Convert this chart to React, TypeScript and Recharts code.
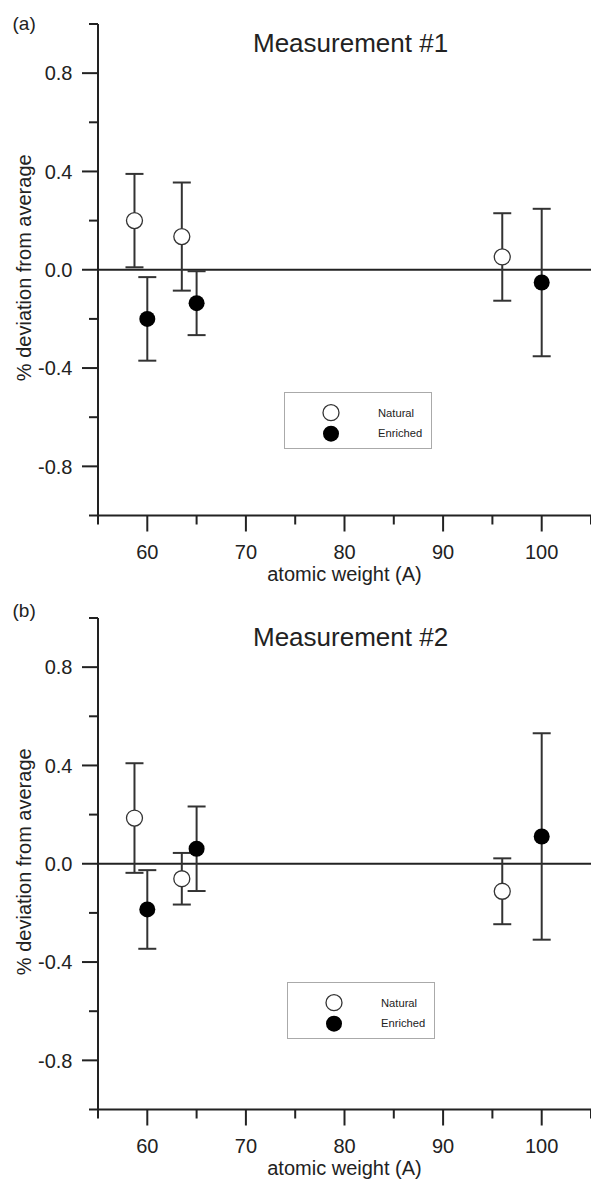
import { ScatterChart, Scatter, XAxis, YAxis, ErrorBar, ReferenceLine, Legend } from 'recharts'

// atomic weights of the isotopes (x)
const naturalA = [58.7, 63.5, 96]
const enrichedA = [60, 65, 100]

// measurement #1
const natural1 = [0.2, 0.135, 0.052]
const natural1Err = [0.19, 0.22, 0.178]
const enriched1 = [-0.2, -0.136, -0.052]
const enriched1Err = [0.17, 0.13, 0.3]

// measurement #2
const natural2 = [0.186, -0.061, -0.112]
const natural2Err = [0.223, 0.105, 0.134]
const enriched2 = [-0.186, 0.061, 0.111]
const enriched2Err = [0.16, 0.172, 0.42]

const xTicks = [55, 60, 65, 70, 75, 80, 85, 90, 95, 100, 105]
const xMajor = [60, 70, 80, 90, 100]
const yTicks = [-1, -0.8, -0.6, -0.4, -0.2, 0, 0.2, 0.4, 0.6, 0.8, 1]
const yMajor = [-0.8, -0.4, 0, 0.4, 0.8]

const seriesNames = ['Natural', 'Enriched']

const INK = '#222'
const FONT = '"Liberation Sans", Arial, sans-serif'

const toPoints = (xs: number[], ys: number[], errs: number[]) =>
  xs.map((x, i) => ({ x, y: ys[i], err: errs[i] }))

function XTick({ x, y, payload }: any) {
  const v = payload.value
  const major = xMajor.includes(v)
  return (
    <g>
      <line x1={x} x2={x} y1={y} y2={y + (major ? 16 : 9)} stroke={INK} strokeWidth={2} />
      {major && (
        <text x={x} y={y + 43} textAnchor="middle" fontSize={20} fill={INK} fontFamily={FONT}>
          {v}
        </text>
      )}
    </g>
  )
}

function YTick({ x, y, payload }: any) {
  const v = payload.value
  const major = yMajor.includes(v)
  return (
    <g>
      <line x1={x} x2={x - (major ? 16 : 9)} y1={y} y2={y} stroke={INK} strokeWidth={2} />
      {major && (
        <text x={x - 25.5} y={y + 7.2} textAnchor="end" fontSize={20} fill={INK} fontFamily={FONT}>
          {v.toFixed(1)}
        </text>
      )}
    </g>
  )
}

function XLabel({ viewBox }: any) {
  return (
    <text
      x={viewBox.x + viewBox.width / 2}
      y={viewBox.y + 65}
      textAnchor="middle"
      fontSize={20}
      fill={INK}
      fontFamily={FONT}
    >
      atomic weight (A)
    </text>
  )
}

function YLabel({ viewBox }: any) {
  const cy = viewBox.y + viewBox.height / 2 - 2
  return (
    <text
      x={31}
      y={cy}
      transform={`rotate(-90 31 ${cy})`}
      textAnchor="middle"
      fontSize={20}
      fill={INK}
      fontFamily={FONT}
    >
      % deviation from average
    </text>
  )
}

const openDot = (p: any) => <circle cx={p.cx} cy={p.cy} r={8} fill="#fff" stroke="#333" strokeWidth={1.3} />
const fullDot = (p: any) => <circle cx={p.cx} cy={p.cy} r={8} fill="#000" />

function LegendBox() {
  return (
    <div
      style={{
        width: 148,
        height: 57,
        border: '1px solid #aaa',
        boxSizing: 'border-box',
        background: '#fff',
      }}
    >
      <svg width={146} height={55} style={{ display: 'block' }}>
        <circle cx={46} cy={19.7} r={8} fill="#fff" stroke="#333" strokeWidth={1.3} />
        <circle cx={46} cy={40.7} r={8} fill="#000" />
        <text x={93} y={23.7} fontSize={11.2} fill={INK} fontFamily={FONT}>
          {seriesNames[0]}
        </text>
        <text x={93} y={44.3} fontSize={11.2} fill={INK} fontFamily={FONT}>
          {seriesNames[1]}
        </text>
      </svg>
    </div>
  )
}

interface PanelProps {
  top: number
  height: number
  bottom: number
  tag: string
  tagTop: number
  title: string
  natural: { x: number; y: number; err: number }[]
  enriched: { x: number; y: number; err: number }[]
  legendLeft: number
  legendTop: number
}

function Panel(p: PanelProps) {
  return (
    <div style={{ position: 'absolute', left: 0, top: p.top, width: 591, height: p.height }}>
      <ScatterChart
        width={591}
        height={p.height}
        margin={{ top: 24, right: 0, left: 0, bottom: p.bottom }}
        style={{ fontFamily: FONT }}
      >
        <XAxis
          type="number"
          dataKey="x"
          domain={[55, 105]}
          ticks={xTicks}
          interval={0}
          height={60}
          tickSize={0}
          tickMargin={0}
          tickLine={false}
          tick={<XTick />}
          axisLine={{ stroke: INK, strokeWidth: 2 }}
          label={<XLabel />}
        />
        <YAxis
          type="number"
          dataKey="y"
          domain={[-1, 1]}
          ticks={yTicks}
          interval={0}
          width={98}
          tickSize={0}
          tickMargin={0}
          tickLine={false}
          tick={<YTick />}
          axisLine={{ stroke: INK, strokeWidth: 2 }}
          label={<YLabel />}
        />
        <ReferenceLine y={0} stroke={INK} strokeWidth={2} />
        <Legend
          layout="horizontal"
          verticalAlign="middle"
          align="center"
          wrapperStyle={{ left: p.legendLeft, top: p.legendTop, width: 148, height: 57 }}
          content={() => <LegendBox />}
        />
        <Scatter name={seriesNames[0]} data={p.natural} shape={openDot} isAnimationActive={false}>
          <ErrorBar dataKey="err" direction="y" width={9} stroke="#333" strokeWidth={2} isAnimationActive={false} />
        </Scatter>
        <Scatter name={seriesNames[1]} data={p.enriched} shape={fullDot} isAnimationActive={false}>
          <ErrorBar dataKey="err" direction="y" width={9} stroke="#333" strokeWidth={2} isAnimationActive={false} />
        </Scatter>
      </ScatterChart>
      <div
        style={{
          position: 'absolute',
          left: 12.5,
          top: p.tagTop,
          fontSize: 19,
          lineHeight: '19px',
          fontFamily: FONT,
          color: INK,
        }}
      >
        {p.tag}
      </div>
      <div
        style={{
          position: 'absolute',
          left: 253,
          top: 30,
          fontSize: 26,
          lineHeight: '26px',
          fontFamily: FONT,
          color: INK,
          whiteSpace: 'nowrap',
        }}
      >
        {p.title}
      </div>
    </div>
  )
}

export default function App() {
  return (
    <div
      style={{
        position: 'absolute',
        left: 0,
        top: 0,
        width: 591,
        height: 1180,
        overflow: 'hidden',
        background: '#fff',
      }}
    >
      <Panel
        top={0}
        height={590}
        bottom={14.5}
        tag="(a)"
        tagTop={13.8}
        title="Measurement #1"
        natural={toPoints(naturalA, natural1, natural1Err)}
        enriched={toPoints(enrichedA, enriched1, enriched1Err)}
        legendLeft={284}
        legendTop={392}
      />
      <Panel
        top={593.5}
        height={586}
        bottom={10.5}
        tag="(b)"
        tagTop={7}
        title="Measurement #2"
        natural={toPoints(naturalA, natural2, natural2Err)}
        enriched={toPoints(enrichedA, enriched2, enriched2Err)}
        legendLeft={286.7}
        legendTop={388.8}
      />
    </div>
  )
}
